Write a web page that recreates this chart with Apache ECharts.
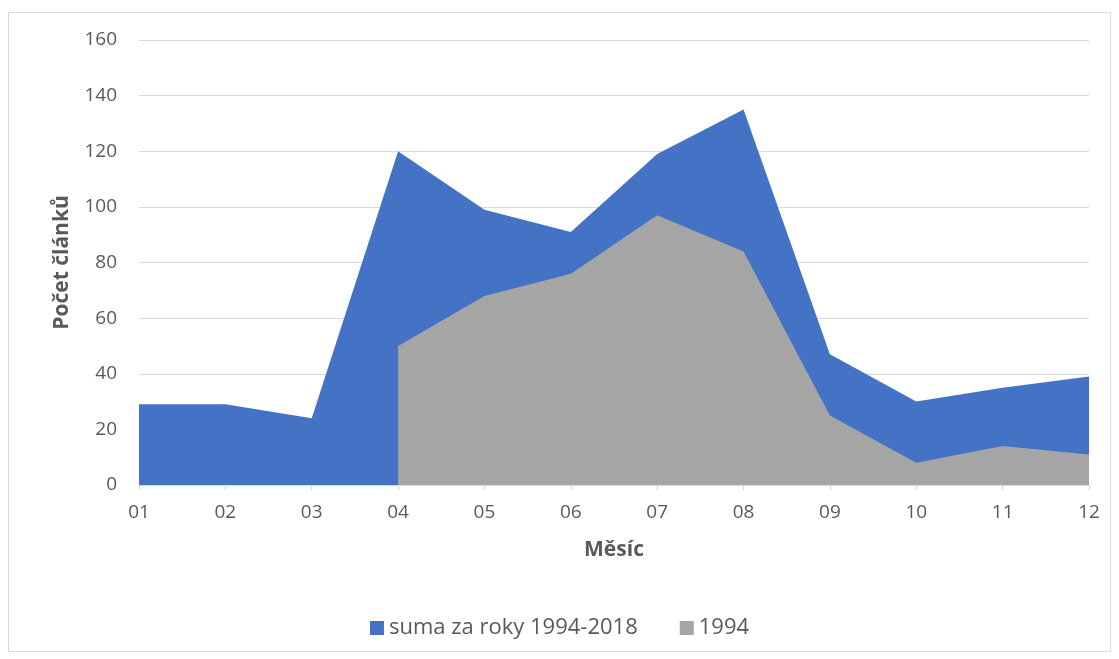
<!DOCTYPE html>
<html><head><meta charset="utf-8">
<script src="https://cdn.jsdelivr.net/npm/echarts@6/dist/echarts.min.js"></script>
<style>html,body{margin:0;padding:0;background:#fff}#frame{position:absolute;left:8px;top:12px;width:1103px;height:640px;border:1px solid #d9d9d9;box-sizing:border-box}#c{width:1119px;height:659px;position:absolute;left:0;top:0}</style>
</head><body><div id="frame"></div><div id="c"></div>
<script>
const months = ['01','02','03','04','05','06','07','08','09','10','11','12'];
const sumaValues = [29, 29, 24, 120, 99, 91, 119, 135, 47, 30, 35, 39];
const y1994Values = [null, null, null, 50, 68, 76, 97, 84, 25, 8, 14, 11];
const seriesNames = ['suma za roky 1994-2018', '1994'];
const yTicks = {min: 0, max: 160, interval: 20};

const font = '"Open Sans", "Liberation Sans", sans-serif';
const chart = echarts.init(document.getElementById('c'));
chart.setOption({
  animation: false,
  grid: {left: 139, right: 30, top: 40, bottom: 174},
  legend: {
    top: 612, left: 'center', itemWidth: 14, itemHeight: 14, itemGap: 42,
    icon: 'rect',
    textStyle: {fontFamily: font, fontSize: 22, color: '#595959'},
    data: seriesNames
  },
  xAxis: {
    type: 'category', data: months, boundaryGap: false,
    name: 'Měsíc', nameLocation: 'middle', nameGap: 55,
    nameTextStyle: {fontFamily: font, fontSize: 21, fontWeight: 'bold', color: '#595959'},
    axisLine: {lineStyle: {color: '#d9d9d9', width: 1}},
    axisTick: {show: true, alignWithLabel: true, length: 5, lineStyle: {color: '#d9d9d9'}},
    axisLabel: {fontFamily: font, fontSize: 19, color: '#595959', margin: 18}
  },
  yAxis: {
    type: 'value', min: yTicks.min, max: yTicks.max, interval: yTicks.interval,
    name: 'Počet článků', nameLocation: 'middle', nameGap: 66,
    nameTextStyle: {fontFamily: font, fontSize: 21, fontWeight: 'bold', color: '#595959'},
    axisLine: {show: false}, axisTick: {show: false},
    axisLabel: {fontFamily: font, fontSize: 19, color: '#595959', margin: 22},
    splitLine: {lineStyle: {color: '#d9d9d9', width: 1}}
  },
  series: [
    {name: seriesNames[0], type: 'line', data: sumaValues, symbol: 'none',
     lineStyle: {width: 0}, itemStyle: {color: '#4472c4'},
     areaStyle: {color: '#4472c4', opacity: 1}},
    {name: seriesNames[1], type: 'line', data: y1994Values, symbol: 'none',
     lineStyle: {width: 0}, itemStyle: {color: '#a5a5a5'},
     areaStyle: {color: '#a5a5a5', opacity: 1}}
  ]
});
</script></body></html>
